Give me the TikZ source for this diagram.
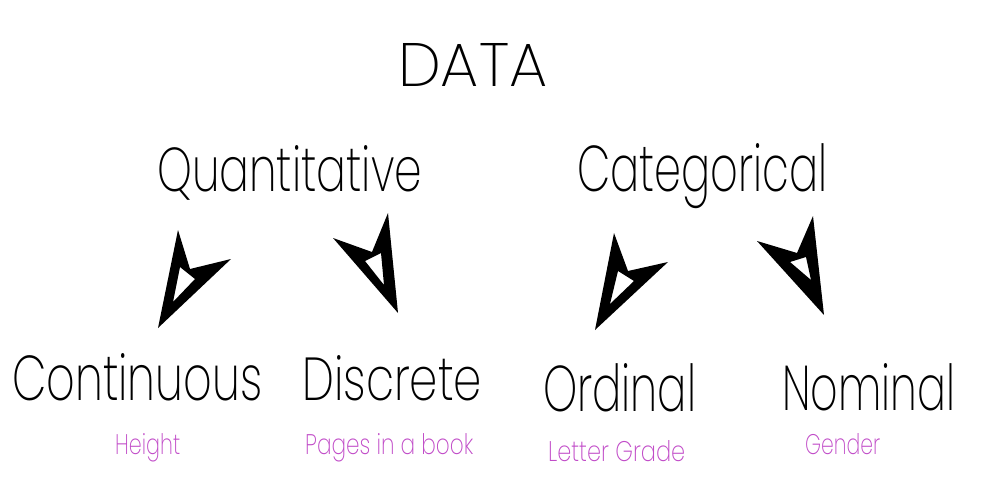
\documentclass[tikz,border=0pt]{standalone}
\usepackage{fontspec}
\usepackage{graphicx}
\newfontfamily\thinfont{Poppins}[UprightFont={* ExtraLight}]
\definecolor{labelpurple}{RGB}{193,75,200}
\newcommand\fitbox[3]{\resizebox{#1pt}{#2pt}{\thinfont #3}}
\tikzset{
  lbl/.style={inner sep=0pt, anchor=base west},
  small/.style={lbl, text=labelpurple},
  arrowshape/.style={fill=black, even odd rule}
}
\begin{document}
\begin{tikzpicture}[x=1pt,y=-1pt]
\fill[white] (0,0) rectangle (1002,495);
\useasboundingbox (0,0) rectangle (1002,495);
% titles
\node[lbl] (data) at (398,86) {\fitbox{149}{43}{DATA}};
\node[lbl] (quant) at (157,191) {\fitbox{265}{46}{Quantitative}};
\node[lbl] (cat) at (577,191) {\fitbox{250}{48}{Categorical}};
\node[lbl] (cont) at (12,400) {\fitbox{250}{47}{Continuous}};
\node[lbl] (disc) at (302,400) {\fitbox{180}{45}{Discrete}};
\node[lbl] (ord) at (543,411) {\fitbox{153}{48}{Ordinal}};
\node[lbl] (nom) at (782,410) {\fitbox{173}{47}{Nominal}};
% small labels
\node[small] (height) at (115,454) {\fitbox{65}{21}{Height}};
\node[small] (pages) at (305,454) {\fitbox{168}{21}{Pages in a book}};
\node[small] (letter) at (548,461) {\fitbox{137}{21}{Letter Grade}};
\node[small] (gender) at (805,454) {\fitbox{75}{21}{Gender}};
% arrows
\fill[arrowshape] (178,230) -- (190,269) -- (231,259) -- (158,328) -- cycle
  (180,267) -- (195,279) -- (173,302) -- cycle;
\fill[arrowshape] (388,213) -- (372,252) -- (333,238) -- (398,313) -- cycle
  (365,261) -- (381,253) -- (384,285) -- cycle;
\fill[arrowshape] (614,233) -- (628,271) -- (668,262) -- (595,330) -- cycle
  (618,271) -- (634,281) -- (610,304) -- cycle;
\fill[arrowshape] (813,216) -- (797,253) -- (757,241) -- (824,315) -- cycle
  (790,262) -- (806,257) -- (811,280) -- cycle;
\end{tikzpicture}
\end{document}
